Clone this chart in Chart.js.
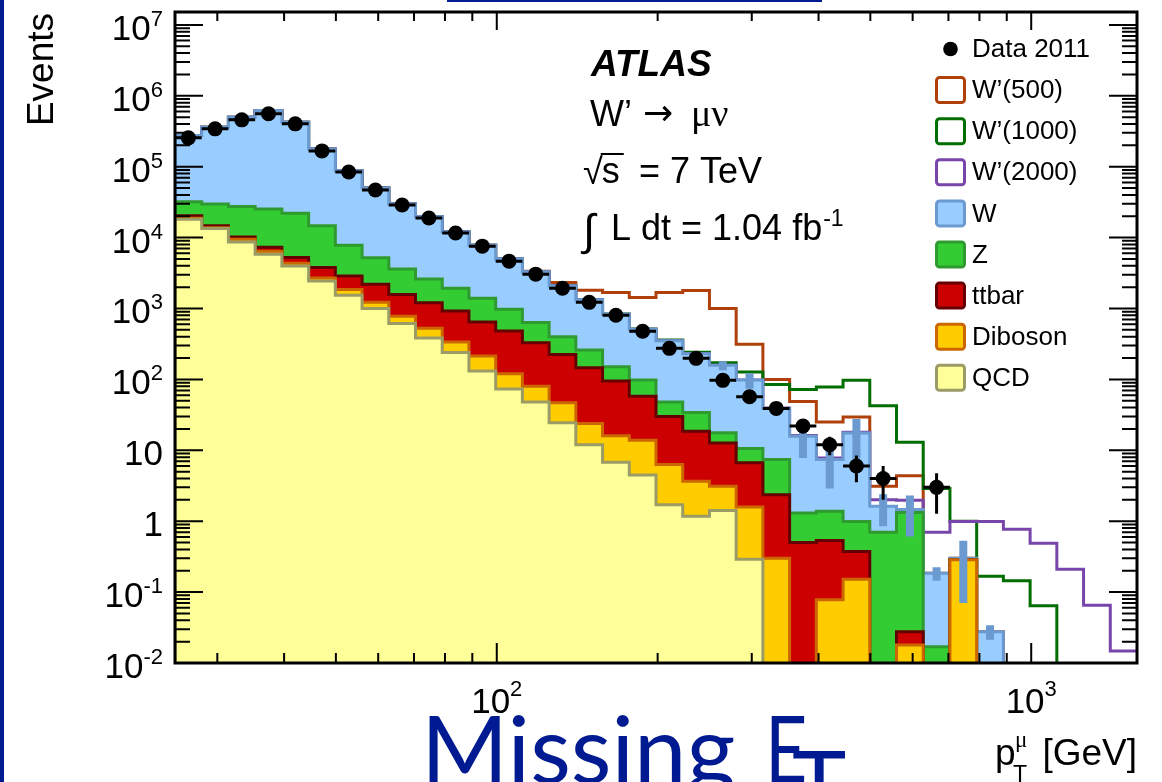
<!DOCTYPE html>
<html>
<head>
<meta charset="utf-8">
<script src="https://cdn.jsdelivr.net/npm/chart.js@4.4.1/dist/chart.umd.min.js"></script>
<style>
html,body{margin:0;padding:0;background:#fff;}
#wrap{position:relative;width:1162px;height:782px;overflow:hidden;}
canvas{display:block;}
</style>
</head>
<body>
<div id="wrap"><canvas id="c" width="1162" height="782"></canvas></div>
<script>
// ---------- DATA ----------
// bin edges of p_T^mu [GeV] (log-spaced histogram bins)
const binEdges = [25, 28.05, 31.47, 35.31, 39.62, 44.46, 49.88, 55.97, 62.80, 70.46, 79.06, 88.70,
  99.53, 111.67, 125.30, 140.58, 157.74, 176.99, 198.58, 222.81, 250.0, 280.50, 314.73, 353.13,
  396.22, 444.57, 498.81, 559.68, 627.97, 704.59, 790.57, 887.03, 995.27, 1116.71, 1252.96, 1405.85, 1577.39];

// Data 2011 (events per bin) and its uncertainty
const dataCounts = [255000, 342000, 458000, 557000, 402000, 167000, 84300, 46900, 28800, 18900, 11600, 7580,
  4650, 3050, 1930, 1220, 803, 477, 274, 198, 97, 57, 39, 22, 12, 6, 4, null, 3, null, null, null, null, null, null, null];
const dataErr = [505, 585, 677, 746, 634, 409, 290, 217, 170, 137, 108, 87,
  68, 55, 44, 35, 28, 22, 16.6, 14.1, 9.8, 7.5, 6.2, 4.7, 3.5, 2.45, 2.0, null, 1.73, null, null, null, null, null, null, null];

// Background components (events per bin), stacked bottom->top: QCD, Diboson, ttbar, Z, W
const qcd = [18200, 13400, 8700, 5800, 3970, 2450, 1540, 1000, 615, 383, 239, 131,
  73, 48, 24.4, 12, 6.8, 4.5, 1.7, 1.17, 1.42, 0.29, 0, 0, 0, 0, 0, 0, 0, 0, 0, 0, 0, 0, 0, 0];
const diboson = [600, 400, 800, 600, 380, 250, 320, 220, 165, 142, 97, 83,
  47, 32, 22.6, 11.9, 9.2, 9.4, 4.6, 2.48, 1.68, 1.29, 0.30, 0, 0.078, 0.152, 0, 0.018, 0, 0.286, 0, 0, 0, 0, 0, 0];
const ttbar = [1600, 900, 700, 900, 900, 1100, 1020, 980, 800, 685, 589, 432,
  362, 250, 178, 122, 79, 44, 23.7, 14.95, 9.6, 5.07, 2.07, 0.50, 0.457, 0.222, 0, 0.0097, 0, 0, 0, 0, 0, 0, 0, 0];
const zjets = [11600, 15000, 17300, 18000, 16750, 10900, 4920, 3000, 2020, 1390, 1005, 754,
  495, 305, 175, 113, 56, 40, 18, 15.4, 5.0, 3.95, 5.03, 0.81, 0.845, 0.616, 0.70, 1.30, 0.017, 0, 0, 0, 0, 0, 0, 0];
const wjets = [243000, 330300, 472500, 594700, 403000, 163300, 80200, 44800, 26100, 17100, 10070, 6400,
  4070, 2665, 1700, 1071, 679, 412, 302, 196, 140, 87.4, 31.6, 14.5, 6.02, 16.6, 0.92, 0.13, 0.168, 0.014, 0.0277, 0, 0, 0, 0, 0];
// MC statistical uncertainty on the total background (shown where visible)
const mcStatErr = [null, null, null, null, null, null, null, null, null, null, null, null,
  null, null, null, null, null, null, null, null, 23, 24, 6, 8, 4.5, 10, 0.77, 0.85, 0.04, 0.23, 0.0065, null, null, null, null, null];

// W' signals (events per bin, drawn stacked on top of the total background)
const sigW500 = [0, 0, 0, 0, 0, 2, 4, 6, 9, 12, 18, 25,
  40, 60, 230, 480, 850, 920, 1330, 1570, 840, 214, 61, 33, 17.6, 12, 1.5, 2.9, 0, 0, 0, 0, 0, 0, 0, 0];
const sigW1000 = [0, 0, 0, 0, 0, 0.5, 0.6, 0.8, 1, 1.3, 1.6, 2,
  2.5, 3, 3.5, 4, 5, 6, 9, 11, 14, 29, 46, 56, 71, 80, 41, 11.5, 2.7, 0.7, 0.14, 0.145, 0.064, 0, 0, 0];
const sigW2000 = [0, 0, 0, 0, 0, 0.02, 0.03, 0.04, 0.05, 0.06, 0.08, 0.1,
  0.12, 0.14, 0.16, 0.18, 0.2, 0.22, 0.25, 0.27, 0.3, 0.32, 0.35, 0.38, 0.4, 0.45, 0.38, 0.51, 0.515, 0.69, 0.96, 0.77, 0.49, 0.21, 0.065, 0.0148];

// Tick labels: [mantissa text, exponent text]
const yTickValues = [1e-2, 1e-1, 1, 10, 1e2, 1e3, 1e4, 1e5, 1e6, 1e7];
const yTickLabels = [['10', '-2'], ['10', '-1'], ['1', ''], ['10', ''], ['10', '2'], ['10', '3'], ['10', '4'], ['10', '5'], ['10', '6'], ['10', '7']];
const xTickValues = [100, 1000];
const xTickLabels = [['10', '2'], ['10', '3']];

// ---------- build chart ----------
const FONT = '"Liberation Sans", Arial, Helvetica, sans-serif';
const FLOOR = 1e-5; // stand-in for empty bins on the log axis (falls below the frame)
const nB = binEdges.length - 1;
const centers = binEdges.slice(0, -1).map((e, i) => Math.sqrt(e * binEdges[i + 1]));
function cumsum(...arrs) { return arrs[0].map((_, i) => arrs.reduce((s, a) => s + a[i], 0)); }
const cQCD = cumsum(qcd);
const cDib = cumsum(qcd, diboson);
const cTT = cumsum(qcd, diboson, ttbar);
const cZ = cumsum(qcd, diboson, ttbar, zjets);
const cW = cumsum(qcd, diboson, ttbar, zjets, wjets);
const lW500 = cumsum(cW, sigW500), lW1000 = cumsum(cW, sigW1000), lW2000 = cumsum(cW, sigW2000);

function histPoints(vals, edgesToFloor) {
  const f = v => (v > 0 ? v : FLOOR);
  const pts = [];
  if (edgesToFloor) pts.push({x: binEdges[0], y: FLOOR});
  for (let i = 0; i <= nB; i++) pts.push({x: binEdges[i], y: f(vals[Math.min(i, nB - 1)])});
  if (edgesToFloor) pts.push({x: binEdges[nB], y: FLOOR});
  return pts;
}
function stackLayer(label, vals, fillC, borderC, order, rank) {
  return {label, data: histPoints(vals, true), stepped: 'before', fill: 'start', backgroundColor: fillC,
    borderColor: borderC, borderWidth: 3, pointRadius: 0, order, borderJoinStyle: 'miter',
    legendRank: rank, legendFill: fillC, legendBorder: borderC};
}
function signalLine(label, vals, color, order, rank) {
  return {label, data: histPoints(vals, false), stepped: 'before', fill: false, borderColor: color,
    backgroundColor: color, borderWidth: 3, pointRadius: 0, order, borderJoinStyle: 'miter',
    legendRank: rank, legendFill: '#ffffff', legendBorder: color};
}
const dataErrPts = [];
const dataPts = [];
for (let i = 0; i < nB; i++) {
  const v = dataCounts[i];
  if (v == null) continue;
  dataPts.push({x: centers[i], y: v});
  dataErrPts.push({x: binEdges[i], y: v}, {x: binEdges[i + 1], y: v}, {x: centers[i], y: null});
  const e = dataErr[i];
  if (e != null) dataErrPts.push({x: centers[i], y: Math.max(v - e, FLOOR)}, {x: centers[i], y: v + e}, {x: centers[i], y: null});
}
const mcErrPts = [];
for (let i = 0; i < nB; i++) {
  const e = mcStatErr[i];
  if (e == null) continue;
  mcErrPts.push({x: centers[i], y: Math.max(cW[i] - e, FLOOR)}, {x: centers[i], y: cW[i] + e}, {x: centers[i], y: null});
}

const datasets = [
  {label: 'Data 2011', data: dataPts, showLine: false, pointRadius: 7.5, pointHoverRadius: 7.5,
    pointBackgroundColor: '#000', pointBorderColor: '#000', pointBorderWidth: 0, borderColor: '#000', order: 0,
    legendRank: 0, legendMarker: true},
  {label: 'data errors', data: dataErrPts, borderColor: '#000', borderWidth: 3, pointRadius: 0, fill: false, order: 1, borderCapStyle: 'butt'},
  {label: 'MC stat', data: mcErrPts, borderColor: '#6a9ad0', borderWidth: 8, pointRadius: 0, fill: false, order: 2, borderCapStyle: 'butt'},
  stackLayer('QCD', cQCD, '#ffff99', '#9b9b66', 3, 8),
  stackLayer('Diboson', cDib, '#ffcc00', '#cc6600', 4, 7),
  stackLayer('ttbar', cTT, '#cc0000', '#660000', 5, 6),
  stackLayer('Z', cZ, '#33cc33', '#2f9a2f', 6, 5),
  stackLayer('W', cW, '#99ccff', '#6a9ad0', 7, 4),
  signalLine('W\u2019(2000)', lW2000, '#7846aa', 8, 3),
  signalLine('W\u2019(1000)', lW1000, '#006e00', 9, 2),
  signalLine('W\u2019(500)', lW500, '#b0400a', 10, 1)
];

const BLUE = '#001a91';
const deco = {
  id: 'deco',
  beforeDraw(chart) {
    const ctx = chart.ctx;
    ctx.save();
    ctx.fillStyle = '#fff';
    ctx.fillRect(0, 0, chart.width, chart.height);
    ctx.restore();
  },
  afterDraw(chart) {
    const {ctx, chartArea: a, scales: {x, y}} = chart;
    ctx.save();
    // inward ticks on all four sides
    ctx.strokeStyle = '#000';
    ctx.lineWidth = 2;
    ctx.beginPath();
    for (let d = -2; d <= 7; d++) {
      for (let m = 1; m <= 9; m++) {
        const v = m * Math.pow(10, d);
        if (v < y.min * 0.999 || v > y.max) continue;
        const py = y.getPixelForValue(v);
        const len = m === 1 ? 28 : 15;
        ctx.moveTo(a.left, py); ctx.lineTo(a.left + len, py);
        ctx.moveTo(a.right, py); ctx.lineTo(a.right - len, py);
      }
    }
    for (let d = 1; d <= 3; d++) {
      for (let m = 1; m <= 9; m++) {
        const v = m * Math.pow(10, d);
        if (v <= x.min || v >= x.max) continue;
        const px = x.getPixelForValue(v);
        ctx.moveTo(px, a.bottom); ctx.lineTo(px, a.bottom - (m === 1 ? 20 : 10));
        ctx.moveTo(px, a.top); ctx.lineTo(px, a.top + (m === 1 ? 18 : 9));
      }
    }
    ctx.stroke();
    ctx.lineWidth = 3;
    ctx.strokeRect(a.left, a.top, a.right - a.left, a.bottom - a.top);

    // tick labels (mantissa + raised exponent)
    ctx.fillStyle = '#000';
    ctx.textBaseline = 'alphabetic';
    const MF = `35px ${FONT}`, EF = `22px ${FONT}`;
    yTickValues.forEach((v, i) => {
      const py = y.getPixelForValue(v);
      const [m, e] = yTickLabels[i];
      let right = a.left - 12;
      ctx.textAlign = 'right';
      if (e) {
        ctx.font = EF; ctx.fillText(e, right, py + 1);
        right -= ctx.measureText(e).width;
      }
      ctx.font = MF; ctx.fillText(m, right, py + 15);
    });
    xTickValues.forEach((v, i) => {
      const px = x.getPixelForValue(v);
      const [m, e] = xTickLabels[i];
      ctx.font = MF; const wm = ctx.measureText(m).width;
      ctx.font = EF; const we = ctx.measureText(e).width;
      const left = px - (wm + we) / 2;
      ctx.textAlign = 'left';
      ctx.font = MF; ctx.fillText(m, left, a.bottom + 50);
      ctx.font = EF; ctx.fillText(e, left + wm, a.bottom + 33);
    });

    // y-axis title
    ctx.save();
    ctx.translate(53, 13);
    ctx.rotate(-Math.PI / 2);
    ctx.font = `37px ${FONT}`;
    ctx.textAlign = 'right';
    ctx.fillText('Events', 0, 0);
    ctx.restore();

    // legend
    const rows = chart.data.datasets.filter(d => d.legendRank != null).sort((p, q) => p.legendRank - q.legendRank);
    rows.forEach((d, i) => {
      const cy = 49 + i * 41.1;
      if (d.legendMarker) {
        ctx.fillStyle = '#000';
        ctx.beginPath(); ctx.arc(950.5, cy, 7.3, 0, Math.PI * 2); ctx.fill();
      } else {
        ctx.beginPath();
        ctx.roundRect(936.5, cy - 12.5, 28, 25, 3);
        ctx.fillStyle = d.legendFill; ctx.fill();
        ctx.lineWidth = 3; ctx.strokeStyle = d.legendBorder; ctx.stroke();
      }
      ctx.fillStyle = '#000';
      ctx.font = `26px ${FONT}`;
      ctx.textBaseline = 'middle';
      ctx.textAlign = 'left';
      ctx.fillText(d.label, 972, cy + 1);
    });

    // annotations
    ctx.textBaseline = 'alphabetic';
    ctx.textAlign = 'left';
    ctx.fillStyle = '#000';
    ctx.font = `italic bold 37px ${FONT}`;
    ctx.fillText('ATLAS', 591, 76);
    ctx.font = `36px ${FONT}`;
    ctx.fillText('W\u2019', 590, 126);
    ctx.font = `36px "DejaVu Sans", ${FONT}`;
    ctx.fillText('\u2192', 643, 125);
    ctx.font = `38px "Liberation Serif", "DejaVu Serif", serif`;
    ctx.fillText('\u03BC\u03BD', 691, 126);
    // sqrt(s) = 7 TeV
    ctx.font = `36px ${FONT}`;
    ctx.fillText('\u221A', 583, 184);
    const sx = 583 + ctx.measureText('\u221A').width - 1;
    ctx.fillText('s', sx, 183);
    const ws = ctx.measureText('s').width;
    ctx.lineWidth = 2; ctx.strokeStyle = '#000';
    ctx.beginPath(); ctx.moveTo(sx - 1, 154); ctx.lineTo(sx + ws + 4, 154); ctx.stroke();
    ctx.fillText('= 7 TeV', 639, 183);
    // integral L dt
    ctx.font = `44px ${FONT}`;
    ctx.fillText('\u222B', 583, 245);
    ctx.font = `36px ${FONT}`;
    ctx.fillText('L dt = 1.04 fb', 611, 240);
    const w = ctx.measureText('L dt = 1.04 fb').width;
    ctx.font = `23px ${FONT}`;
    ctx.fillText('-1', 611 + w + 1, 226);

    // x-axis title p_T^mu [GeV]
    ctx.font = `37px ${FONT}`;
    ctx.fillText('p', 995, 765);
    ctx.font = `23px ${FONT}`;
    ctx.fillText('T', 1013, 782);
    ctx.font = `23px "Liberation Serif", "DejaVu Serif", serif`;
    ctx.fillText('\u03BC', 1015, 747);
    ctx.font = `37px ${FONT}`;
    ctx.textAlign = 'right';
    ctx.fillText('[GeV]', 1137, 765);
    ctx.textAlign = 'left';

    // slide decorations: "Missing E_T" title and blue rules
    ctx.fillStyle = BLUE;
    ctx.fillRect(0, 0, 4, chart.height);
    ctx.fillRect(447, 0, 375, 2);
    ctx.font = `94px Lato, "Open Sans", sans-serif`;
    ctx.fillText('Missing', 421, 783);
    ctx.save();
    ctx.translate(765, 783);
    ctx.scale(0.78, 1);
    ctx.fillText('E', 0, 0);
    ctx.restore();
    ctx.font = `92px Lato, "Open Sans", sans-serif`;
    ctx.fillText('T', 792, 816);
    ctx.restore();
  }
};

new Chart(document.getElementById('c'), {
  type: 'line',
  data: {datasets},
  options: {
    responsive: false,
    animation: false,
    events: [],
    layout: {padding: {top: 12, right: 25, left: 0, bottom: 0}},
    plugins: {legend: {display: false}, tooltip: {enabled: false}},
    elements: {line: {tension: 0}},
    scales: {
      x: {
        type: 'logarithmic', min: binEdges[0], max: binEdges[nB],
        grid: {display: false, drawTicks: false}, border: {display: false},
        afterBuildTicks: s => { s.ticks = xTickValues.map(v => ({value: v})); },
        afterFit: s => { s.height = 119; },
        ticks: {display: false}
      },
      y: {
        type: 'logarithmic', min: 0.01, max: 1.52e7,
        grid: {display: false, drawTicks: false}, border: {display: false},
        afterBuildTicks: s => { s.ticks = yTickValues.map(v => ({value: v})); },
        afterFit: s => { s.width = 175; },
        ticks: {display: false}
      }
    }
  },
  plugins: [deco]
});
</script>
</body>
</html>
